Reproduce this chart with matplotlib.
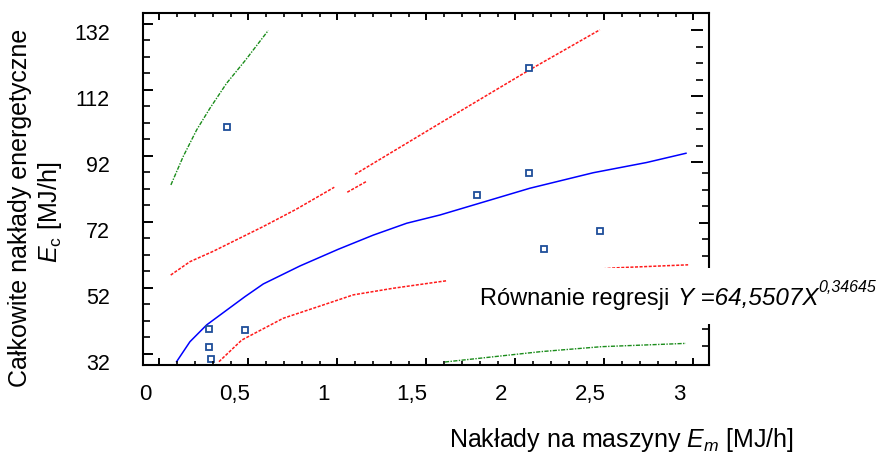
import matplotlib
matplotlib.use("Agg")
import matplotlib.pyplot as plt
from matplotlib.ticker import FixedLocator, NullFormatter, NullLocator
from matplotlib.patches import Rectangle

plt.rcParams['font.family'] = ['Liberation Sans', 'DejaVu Sans']
plt.rcParams['mathtext.fontset'] = 'custom'
plt.rcParams['mathtext.rm'] = 'Liberation Sans'
plt.rcParams['mathtext.it'] = 'Liberation Sans:italic'

# ---------------- data ----------------
obs_x = [0.459, 2.157, 2.157, 1.865, 2.243, 2.555, 0.360, 0.560, 0.360, 0.369]
obs_y = [103.2, 121.2, 89.2, 82.6, 66.4, 71.6, 42.0, 41.8, 36.6, 32.9]

reg_x = [0.176, 0.251, 0.345, 0.560, 0.663, 0.869, 1.084, 1.281, 1.469, 1.656, 2.161, 2.517, 2.817, 3.038]
reg_y = [32.15, 38.2, 43.3, 51.85, 55.7, 61.15, 66.2, 70.5, 74.1, 76.6, 84.7, 89.4, 92.5, 95.3]

conf_up1_x = [0.143, 0.251, 0.382, 0.663, 0.847, 1.062]
conf_up1_y = [58.4, 62.45, 65.6, 73.1, 78.3, 85.0]
conf_up2_x = [1.135, 1.244]
conf_up2_y = [83.5, 86.8]
conf_up3_x = [1.178, 1.656, 2.157, 2.554]
conf_up3_y = [88.9, 104.4, 120.5, 132.7]

conf_lo_x = [0.414, 0.542, 0.775, 0.981, 1.169, 1.393, 1.656, 1.697, 2.648, 3.05]
conf_lo_y = [32.15, 38.7, 45.3, 49.0, 52.4, 54.4, 56.4, 56.7, 60.6, 61.5]

pred_up_x = [0.144, 0.213, 0.289, 0.363, 0.457, 0.560, 0.691]
pred_up_y = [85.7, 94.3, 102.4, 108.9, 116.5, 123.3, 132.5]
pred_lo_x = [1.684, 2.223, 2.563, 3.038]
pred_lo_y = [32.06, 35.2, 36.7, 37.7]

xtick_vals = [0, 0.5, 1, 1.5, 2, 2.5, 3]
xtick_labels = ['0', '0,5', '1', '1,5', '2', '2,5', '3']
ytick_vals = [32, 52, 72, 92, 112, 132]
ytick_labels = ['32', '52', '72', '92', '112', '132']

# tick-mark positions (offset from labels, as in the original)
xmark_major = [0.08 + 0.5 * k for k in range(7)]
xmark_minor = [0.08 + 0.1 * k for k in range(31) if k % 5 != 0]
ymark_major = [34.5 + 20 * k for k in range(6)]
ymark_minor = [34.5 + 5 * k for k in range(21) if k % 4 != 0]
yright_major = [74.3]
yright_minor = [37.0, 42.0, 64.3, 69.3, 79.3, 84.3, 89.3]
yfloat_major = [92.6, 112.6, 132.6]
yfloat_minor = [97.6, 102.6, 107.6, 117.6, 122.6, 127.6]

regression_words = "Równanie regresji"
regression_eq = "Y =64,5507X"
regression_exp = "0,34645"

# ---------------- figure ----------------
W, H = 878, 453
fig = plt.figure(figsize=(W / 100, H / 100), dpi=100)
L, R, B, T = 143.3, 709.3, 365.0, 13.3
pos = [L / W, 1 - B / H, (R - L) / W, (B - T) / H]
xlim = (-0.011, 3.169)
ylim = (31.15, 137.7)

ax = fig.add_axes(pos)
ax.set_xlim(*xlim)
ax.set_ylim(*ylim)
for s in ax.spines.values():
    s.set_linewidth(1.5)
    s.set_color('black')

red = '#ff1a1a'
green = '#1a8c1a'
ax.plot(pred_up_x, pred_up_y, color=green, lw=1.0, ls=(0, (3, 1, 1, 1)))
ax.plot(pred_lo_x, pred_lo_y, color=green, lw=1.0, ls=(0, (3, 1, 1, 1)))
for cx, cy in [(conf_up1_x, conf_up1_y), (conf_up2_x, conf_up2_y), (conf_up3_x, conf_up3_y), (conf_lo_x, conf_lo_y)]:
    ax.plot(cx, cy, color=red, lw=1.1, ls=(0, (2, 1)))
ax.plot(reg_x, reg_y, color='#0000ff', lw=1.1)
ax.plot(obs_x, obs_y, ls='none', marker='s', ms=5.0, mfc='white', mec='#1f4e9a', mew=1.3, zorder=5)

ax.set_xticks(xtick_vals)
ax.set_xticklabels(xtick_labels)
ax.set_yticks(ytick_vals)
ax.set_yticklabels(ytick_labels)
ax.tick_params(axis='x', length=0, pad=14, labelsize=16)
ax.tick_params(axis='y', length=0, pad=24, labelsize=15.5)

# overlay for tick marks (bottom/top/left)
ax2 = fig.add_axes(pos, frameon=False)
ax2.set_xlim(*xlim)
ax2.set_ylim(*ylim)
ax2.xaxis.set_major_locator(FixedLocator(xmark_major))
ax2.xaxis.set_minor_locator(FixedLocator(xmark_minor))
ax2.yaxis.set_major_locator(FixedLocator(ymark_major))
ax2.yaxis.set_minor_locator(FixedLocator(ymark_minor))
ax2.xaxis.set_major_formatter(NullFormatter())
ax2.yaxis.set_major_formatter(NullFormatter())
ax2.tick_params(axis='x', which='major', direction='in', top=True, bottom=True, length=5, width=1.4)
ax2.tick_params(axis='x', which='minor', direction='in', top=True, bottom=True, length=2.8, width=1.2)
ax2.tick_params(axis='y', which='major', direction='in', left=True, right=False, length=7.5, width=1.4)
ax2.tick_params(axis='y', which='minor', direction='in', left=True, right=False, length=4.7, width=1.2)

# right-side tick marks attached to spine
ax3 = fig.add_axes(pos, frameon=False)
ax3.set_xlim(*xlim)
ax3.set_ylim(*ylim)
ax3.xaxis.set_major_locator(NullLocator())
ax3.yaxis.tick_right()
ax3.yaxis.set_major_locator(FixedLocator(yright_major))
ax3.yaxis.set_minor_locator(FixedLocator(yright_minor))
ax3.yaxis.set_major_formatter(NullFormatter())
ax3.tick_params(axis='y', which='major', direction='in', length=7.5, width=1.4)
ax3.tick_params(axis='y', which='minor', direction='in', length=4.7, width=1.2)

# floating right tick marks (upper part)
pos4 = [L / W, 1 - B / H, (703.0 - L) / W, (B - T) / H]
ax4 = fig.add_axes(pos4, frameon=False)
ax4.set_ylim(*ylim)
ax4.xaxis.set_major_locator(NullLocator())
ax4.yaxis.tick_right()
ax4.yaxis.set_major_locator(FixedLocator(yfloat_major))
ax4.yaxis.set_minor_locator(FixedLocator(yfloat_minor))
ax4.yaxis.set_major_formatter(NullFormatter())
ax4.tick_params(axis='y', which='major', direction='in', length=8.6, width=1.4)
ax4.tick_params(axis='y', which='minor', direction='in', length=4.7, width=1.2)

# axis labels
fig.text(621.5 / W, 1 - 447 / H, r'Nakłady na maszyny $E_m$ [MJ/h]', fontsize=18,
         ha='center', va='baseline')
fig.text(20.5 / W, 1 - 208 / H, 'Całkowite nakłady energetyczne', fontsize=18,
         rotation=90, ha='center', va='center')
fig.text(50 / W, 1 - 212 / H, r'$E_\mathrm{c}$ [MJ/h]', fontsize=18,
         rotation=90, ha='center', va='center')

# regression equation box
fig.add_artist(Rectangle((447 / W, 1 - 324 / H), (W - 447) / W, 56 / H,
                         transform=fig.transFigure, facecolor='white', edgecolor='none', zorder=2))
fig.text(480 / W, 1 - 305 / H, regression_words, fontsize=17, ha='left', va='baseline', zorder=5)
fig.text(678 / W, 1 - 305 / H, regression_eq, fontsize=17.5, style='italic', ha='left', va='baseline', zorder=5)
fig.text(818 / W, 1 - 292 / H, regression_exp, fontsize=11.5, style='italic', ha='left', va='baseline', zorder=5)

fig.savefig('out.png', dpi=100)
